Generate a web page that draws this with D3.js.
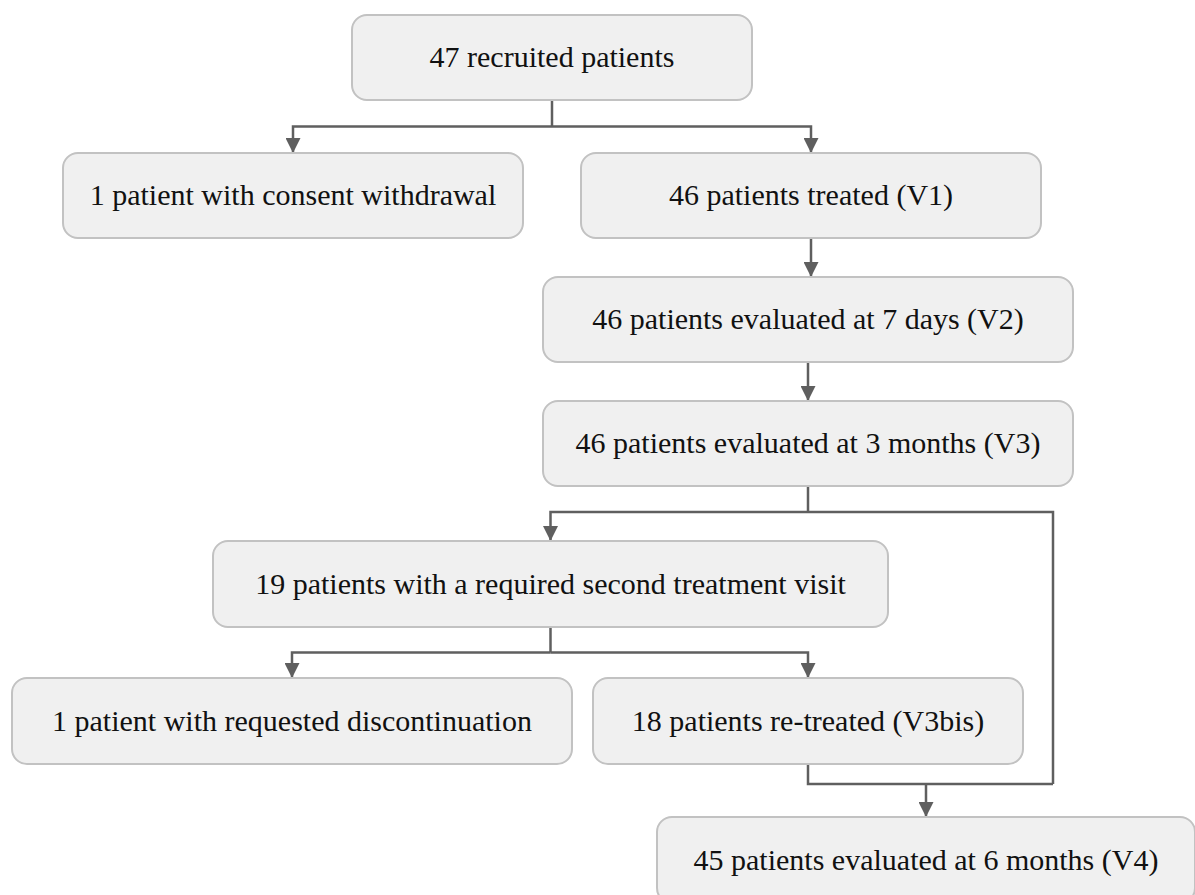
<!DOCTYPE html>
<html>
<head>
<meta charset="utf-8">
<script src="https://cdn.jsdelivr.net/npm/d3@7"></script>
<style>
    html, body { margin: 0; padding: 0; background: #fff; }
    svg { display: block; }
</style>
</head>
<body>
<div id="draw"></div>
<script>
(function () {
    "use strict";

    // node labels, in flow order
    var labels = [
        "47 recruited patients",
        "1 patient with consent withdrawal",
        "46 patients treated (V1)",
        "46 patients evaluated at 7 days (V2)",
        "46 patients evaluated at 3 months (V3)",
        "19 patients with a required second treatment visit",
        "1 patient with requested discontinuation",
        "18 patients re-treated (V3bis)",
        "45 patients evaluated at 6 months (V4)"
    ];

    // edges: [from, to]
    var splits = [[0, [1, 2]], [4, [5, 8]], [5, [6, 7]]];
    var straight = [[2, 3], [3, 4]];
    var merges = [[[7, 4], 8]];

    // layout of the diagram (pixel geometry, not data)
    var W = 1195, H = 895;
    var box = [
        {x: 352, y: 15,  w: 400, h: 85},
        {x: 63,  y: 153, w: 460, h: 85},
        {x: 581, y: 153, w: 460, h: 85},
        {x: 543, y: 277, w: 530, h: 85},
        {x: 543, y: 401, w: 530, h: 85},
        {x: 213, y: 541, w: 675, h: 86},
        {x: 12,  y: 678, w: 560, h: 86},
        {x: 593, y: 678, w: 430, h: 86},
        {x: 657, y: 817, w: 538, h: 86}
    ];
    var sideX = 1053;      // right-hand bypass line
    var lineCol = '#5f5f5f';

    var svg = d3.select('#draw').append('svg')
        .attr('width', W).attr('height', H);

    svg.append('defs').append('marker')
        .attr('id', 'arrowhead')
        .attr('viewBox', '0 0 10 10')
        .attr('refX', 10)
        .attr('refY', 5)
        .attr('markerUnits', 'userSpaceOnUse')
        .attr('markerWidth', 15)
        .attr('markerHeight', 15)
        .attr('orient', 'auto')
        .append('path')
        .attr('d', 'M 0,0 L 10,5 L 0,10 Z')
        .attr('fill', lineCol);

    var line = d3.line();
    var links = svg.append('g');

    function cx(i) { return box[i].x + box[i].w / 2; }
    function top(i) { return box[i].y; }
    function bot(i) { return box[i].y + box[i].h; }

    function path(pts, arrow) {
        var p = links.append('path')
            .attr('d', line(pts))
            .attr('fill', 'none')
            .attr('stroke', lineCol)
            .attr('stroke-width', 2.5);
        if (arrow) p.attr('marker-end', 'url(#arrowhead)');
    }

    // one parent splitting into two children
    splits.forEach(function (s) {
        var from = s[0], kids = s[1],
            midY = (bot(from) + top(kids[0])) / 2;
        if (from === 4) midY = 512;
        path([[cx(from), bot(from)], [cx(from), midY]], false);
        kids.forEach(function (k) {
            if (k === 8) {
                // bypass down the right side to the final merge
                path([[cx(from), midY], [sideX, midY], [sideX, 784]], false);
            } else {
                path([[cx(from), midY], [cx(k), midY], [cx(k), top(k)]], true);
            }
        });
    });

    straight.forEach(function (e) {
        path([[cx(e[0]), bot(e[0])], [cx(e[0]), top(e[1])]], true);
    });

    merges.forEach(function (m) {
        var src = m[0][0], to = m[1], y = 784;
        path([[cx(src), bot(src)], [cx(src), y], [sideX, y]], false);
        path([[cx(to), y], [cx(to), top(to)]], true);
    });

    // boxes
    var nodes = svg.append('g').selectAll('g')
        .data(labels)
        .join('g');

    nodes.append('rect')
        .attr('x', function (d, i) { return box[i].x; })
        .attr('y', function (d, i) { return box[i].y; })
        .attr('width', function (d, i) { return box[i].w; })
        .attr('height', function (d, i) { return box[i].h; })
        .attr('rx', 15)
        .attr('fill', '#f0f0f0')
        .attr('stroke', '#c2c2c2')
        .attr('stroke-width', 2);

    nodes.append('text')
        .attr('x', function (d, i) { return cx(i); })
        .attr('y', function (d, i) { return box[i].y + box[i].h / 2; })
        .attr('dy', '0.33em')
        .attr('text-anchor', 'middle')
        .attr('font-family', '"Liberation Serif", "Times New Roman", serif')
        .attr('font-size', 30)
        .attr('fill', '#111')
        .text(function (d) { return d; });
}());
</script>
</body>
</html>
